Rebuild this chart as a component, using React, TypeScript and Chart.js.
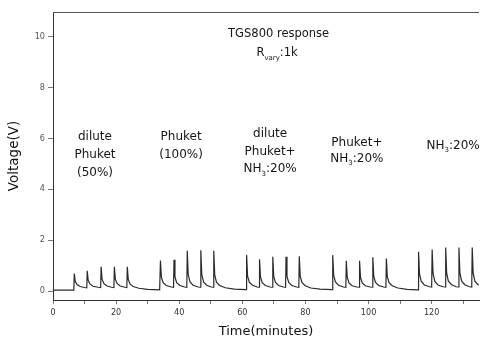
import React, { useEffect, useRef } from 'react';
import { Chart, registerables } from 'chart.js';

Chart.register(...registerables);

// Time (minutes) and voltage (V) samples, one pair of arrays per exposure group
const g1Time = [0, 6.6, 6.75, 7.05, 7.6, 8.6, 10.0, 10.7, 10.85, 11.15, 11.7, 12.7, 14.3, 15.1, 15.25, 15.55, 16.1, 17.1, 18.6, 19.3, 19.45, 19.75, 20.3, 21.3, 22.8, 23.4, 23.55, 23.85, 24.4, 25.4, 27.2, 30.0, 33.8];
const g1Volt = [0.04, 0.04, 0.69, 0.38, 0.26, 0.18, 0.14, 0.13, 0.80, 0.42, 0.28, 0.19, 0.15, 0.14, 0.95, 0.47, 0.30, 0.20, 0.15, 0.14, 0.95, 0.47, 0.30, 0.20, 0.15, 0.14, 0.95, 0.46, 0.28, 0.18, 0.11, 0.07, 0.05];

const g2Time = [33.9, 34.05, 34.35, 34.9, 35.9, 37.5, 38.2, 38.35, 38.65, 39.2, 40.2, 41.7, 42.4, 42.55, 42.85, 43.4, 44.4, 46.0, 46.7, 46.85, 47.15, 47.7, 48.7, 50.1, 50.8, 50.95, 51.25, 51.8, 52.8, 54.6, 57.5, 61.2];
const g2Volt = [0.05, 1.20, 0.55, 0.33, 0.22, 0.16, 0.15, 1.23, 0.56, 0.33, 0.22, 0.16, 0.15, 1.58, 0.65, 0.36, 0.23, 0.16, 0.15, 1.60, 0.66, 0.36, 0.23, 0.16, 0.15, 1.58, 0.64, 0.35, 0.22, 0.13, 0.08, 0.06];

const g3Time = [61.35, 61.65, 62.2, 63.2, 64.7, 65.3, 65.45, 65.75, 66.3, 67.3, 68.8, 69.5, 69.65, 69.95, 70.5, 71.5, 73.0, 73.7, 73.85, 74.15, 74.7, 75.7, 77.2, 77.9, 78.05, 78.35, 78.9, 79.9, 81.7, 84.6, 88.5];
const g3Volt = [1.42, 0.60, 0.35, 0.23, 0.16, 0.15, 1.25, 0.56, 0.33, 0.22, 0.16, 0.15, 1.35, 0.58, 0.34, 0.22, 0.16, 0.15, 1.35, 0.58, 0.34, 0.22, 0.16, 0.15, 1.37, 0.58, 0.34, 0.21, 0.12, 0.08, 0.06];

const g4Time = [88.65, 88.95, 89.5, 90.5, 92.1, 92.8, 92.95, 93.25, 93.8, 94.8, 96.3, 97.0, 97.15, 97.45, 98.0, 99.0, 100.5, 101.2, 101.35, 101.65, 102.2, 103.2, 104.8, 105.5, 105.65, 105.95, 106.5, 107.5, 109.3, 112.2, 115.7];
const g4Volt = [1.41, 0.62, 0.36, 0.23, 0.16, 0.15, 1.19, 0.54, 0.32, 0.21, 0.16, 0.15, 1.19, 0.54, 0.32, 0.21, 0.16, 0.15, 1.33, 0.58, 0.34, 0.22, 0.16, 0.15, 1.28, 0.56, 0.33, 0.21, 0.12, 0.07, 0.05];

const g5Time = [115.85, 116.15, 116.7, 117.7, 119.3, 120.0, 120.15, 120.45, 121.0, 122.0, 123.6, 124.3, 124.45, 124.75, 125.3, 126.3, 127.8, 128.5, 128.65, 128.95, 129.5, 130.5, 132.0, 132.7, 132.85, 133.15, 133.7, 134.6, 135];
const g5Volt = [1.54, 0.66, 0.38, 0.24, 0.17, 0.16, 1.63, 0.68, 0.38, 0.24, 0.17, 0.16, 1.71, 0.70, 0.39, 0.25, 0.17, 0.16, 1.71, 0.70, 0.39, 0.25, 0.17, 0.16, 1.71, 0.70, 0.39, 0.26, 0.24];

const xTickValues = [0, 10, 20, 30, 40, 50, 60, 70, 80, 90, 100, 110, 120, 130];
const xTickLabels = ['0', '', '20', '', '40', '', '60', '', '80', '', '100', '', '120', ''];
const yTickValues = [0, 2, 4, 6, 8, 10];
const yTickLabels = ['0', '2', '4', '6', '8', '10'];

const xTitle = 'Time(minutes)';
const yTitle = 'Voltage(V)';

// Text notes, anchored in data units; "_{...}" marks a subscript
const notes = [
  { x: 71.5, y: 10.12, text: 'TGS800 response', size: 11.5 },
  { x: 71.0, y: 9.37, text: 'R_{vary}:1k', size: 11.5 },
  { x: 13.3, y: 6.1, text: 'dilute', size: 12 },
  { x: 13.3, y: 5.4, text: 'Phuket', size: 12 },
  { x: 13.3, y: 4.7, text: '(50%)', size: 12 },
  { x: 40.6, y: 6.1, text: 'Phuket', size: 12 },
  { x: 40.6, y: 5.4, text: '(100%)', size: 12 },
  { x: 68.8, y: 6.2, text: 'dilute', size: 12 },
  { x: 68.8, y: 5.5, text: 'Phuket+', size: 12 },
  { x: 68.8, y: 4.83, text: 'NH_{3}:20%', size: 12 },
  { x: 96.3, y: 5.85, text: 'Phuket+', size: 12 },
  { x: 96.3, y: 5.25, text: 'NH_{3}:20%', size: 12 },
  { x: 126.8, y: 5.76, text: 'NH_{3}:20%', size: 12 },
];

const FONT = '"DejaVu Sans", Verdana, sans-serif';

function parseRich(text: string) {
  const parts: { t: string; sub: boolean }[] = [];
  const re = /_\{([^}]*)\}/g;
  let last = 0;
  let m: RegExpExecArray | null;
  while ((m = re.exec(text))) {
    if (m.index > last) parts.push({ t: text.slice(last, m.index), sub: false });
    parts.push({ t: m[1], sub: true });
    last = m.index + m[0].length;
  }
  if (last < text.length) parts.push({ t: text.slice(last), sub: false });
  return parts;
}

function drawRich(ctx: CanvasRenderingContext2D, text: string, cx: number, cy: number, size: number) {
  const parts = parseRich(text);
  const subSize = Math.round(size * 0.62);
  const widths = parts.map((p) => {
    ctx.font = `${p.sub ? subSize : size}px ${FONT}`;
    return ctx.measureText(p.t).width;
  });
  const total = widths.reduce((a, b) => a + b, 0);
  let x = cx - total / 2;
  const base = cy + size * 0.36;
  ctx.textBaseline = 'alphabetic';
  ctx.textAlign = 'left';
  parts.forEach((p, i) => {
    ctx.font = `${p.sub ? subSize : size}px ${FONT}`;
    ctx.fillText(p.t, x, p.sub ? base + size * 0.28 : base);
    x += widths[i];
  });
}

const overlayPlugin = {
  id: 'overlay',
  afterDraw(chart: any) {
    const { ctx, chartArea, scales } = chart;
    ctx.save();
    ctx.strokeStyle = '#555';
    ctx.lineWidth = 1;
    ctx.beginPath();
    ctx.moveTo(chartArea.left, Math.round(chartArea.top) + 0.5);
    ctx.lineTo(chartArea.right, Math.round(chartArea.top) + 0.5);
    ctx.stroke();
    ctx.fillStyle = '#151515';
    for (const n of notes) {
      drawRich(ctx, n.text, scales.x.getPixelForValue(n.x), scales.y.getPixelForValue(n.y), n.size);
    }
    ctx.restore();
  },
};

export default function App() {
  const ref = useRef<HTMLCanvasElement | null>(null);

  useEffect(() => {
    if (!ref.current) return;
    const groups: [number[], number[]][] = [
      [g1Time, g1Volt],
      [g2Time, g2Volt],
      [g3Time, g3Volt],
      [g4Time, g4Volt],
      [g5Time, g5Volt],
    ];
    const points = groups.flatMap(([t, v]) => t.map((x, i) => ({ x, y: v[i] })));

    const chart = new Chart(ref.current, {
      type: 'line',
      data: {
        datasets: [
          {
            data: points,
            borderColor: '#2a2a2a',
            borderWidth: 1.2,
            pointRadius: 0,
            tension: 0,
            fill: false,
          },
        ],
      },
      options: {
        animation: false,
        responsive: false,
        devicePixelRatio: 1,
        layout: { padding: { left: 0, top: 12, right: 2, bottom: 0 } },
        plugins: { legend: { display: false }, tooltip: { enabled: false } },
        scales: {
          x: {
            type: 'linear',
            min: 0,
            max: 135,
            afterBuildTicks: (scale: any) => {
              scale.ticks = xTickValues.map((value) => ({ value }));
            },
            afterFit: (scale: any) => {
              scale.height = 46;
            },
            ticks: {
              autoSkip: false,
              maxRotation: 0,
              padding: 3,
              color: '#333',
              font: { family: '"DejaVu Sans Condensed", "DejaVu Sans", sans-serif', size: 9 },
              callback: (value: any) => {
                const i = xTickValues.indexOf(Number(value));
                return i >= 0 ? xTickLabels[i] : '';
              },
            },
            grid: { drawOnChartArea: false, drawTicks: true, tickLength: 4, color: '#777' },
            border: { display: true, color: '#333', width: 1 },
            title: {
              display: true,
              text: xTitle,
              color: '#111',
              font: { family: FONT, size: 13 },
              padding: { top: 0, bottom: 7 },
            },
          },
          y: {
            type: 'linear',
            min: -0.35,
            max: 10.95,
            afterBuildTicks: (scale: any) => {
              scale.ticks = yTickValues.map((value) => ({ value }));
            },
            afterFit: (scale: any) => {
              scale.width = 53;
            },
            ticks: {
              padding: 3,
              color: '#555',
              font: { family: '"DejaVu Sans Condensed", "DejaVu Sans", sans-serif', size: 9 },
              callback: (value: any) => {
                const i = yTickValues.indexOf(Number(value));
                return i >= 0 ? yTickLabels[i] : '';
              },
            },
            grid: { drawOnChartArea: false, drawTicks: true, tickLength: 5, color: '#777' },
            border: { display: true, color: '#333', width: 1 },
            title: {
              display: true,
              text: yTitle,
              color: '#111',
              font: { family: FONT, size: 13.5 },
              padding: { top: 6.5, bottom: 0 },
            },
          },
        },
      },
      plugins: [overlayPlugin],
    });
    return () => chart.destroy();
  }, []);

  return (
    <div style={{ position: 'fixed', left: 0, top: 0, width: 481, height: 346, background: '#fff' }}>
      <canvas ref={ref} width={481} height={346} style={{ display: 'block', width: 481, height: 346 }} />
    </div>
  );
}
